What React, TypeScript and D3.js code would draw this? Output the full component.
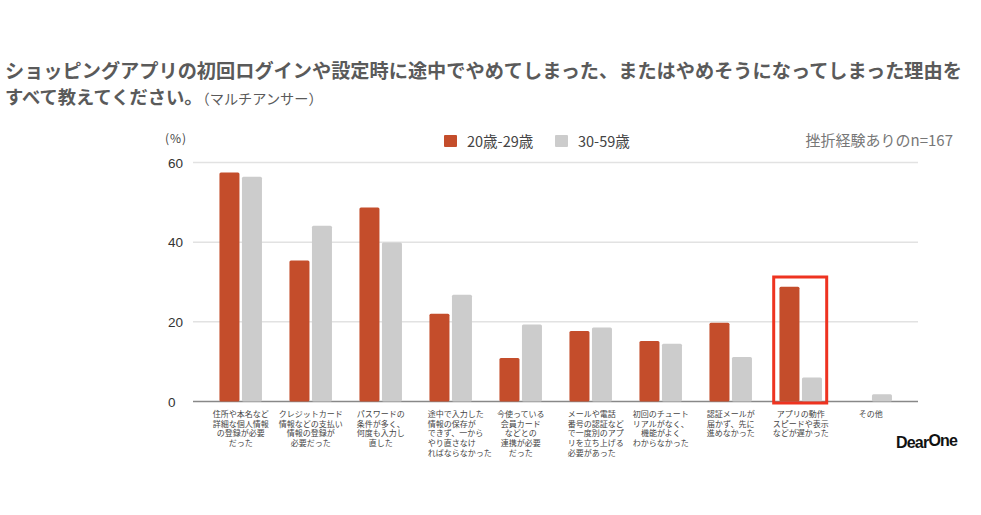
import React from 'react';
import * as d3 from 'd3';

const CATEGORIES = [
  ['住所や本名など', '詳細な個人情報', 'の登録が必要', 'だった'],
  ['クレジットカード', '情報などの支払い', '情報の登録が', '必要だった'],
  ['パスワードの', '条件が多く、', '何度も入力し', '直した'],
  ['途中で入力した', '情報の保存が', 'できず、一から', 'やり直さなけ', 'ればならなかった'],
  ['今使っている', '会員カード', 'などとの', '連携が必要', 'だった'],
  ['メールや電話', '番号の認証など', 'で一度別のアプ', 'リを立ち上げる', '必要があった'],
  ['初回のチュート', 'リアルがなく、', '機能がよく', 'わからなかった'],
  ['認証メールが', '届かず、先に', '進めなかった'],
  ['アプリの動作', 'スピードや表示', 'などが遅かった'],
  ['その他'],
];

const YOUNG = [57.5, 35.4, 48.7, 22.0, 10.9, 17.7, 15.2, 19.8, 28.8, 0];
const OLDER = [56.4, 44.1, 39.9, 26.8, 19.3, 18.6, 14.5, 11.2, 6.0, 1.8];

const SERIES = ['20歳-29歳', '30-59歳'];
const Y_TICKS = [0, 20, 40, 60];

const TITLE_1 = 'ショッピングアプリの初回ログインや設定時に途中でやめてしまった、またはやめそうになってしまった理由を';
const TITLE_2 = 'すべて教えてください。';
const TITLE_2B = '（マルチアンサー）';
const NOTE = '挫折経験ありのn=167';

const ORANGE = '#c44d2b';
const GRAY = '#cccccc';
const FONT = '"Noto Sans CJK JP", "Noto Sans", sans-serif';

// labels that are left aligned in the original
const LEFT_LABELS = [3, 5];
const HIGHLIGHT = 8;

export default function App() {
  const width = 981;
  const height = 515;

  const plotLeft = 205.7;
  const plotRight = 905.7;
  const top = 162.5;
  const bottom = 401.5;

  const idx = CATEGORIES.map((d, i) => String(i));
  const x = d3.scaleBand().domain(idx).range([plotLeft, plotRight]);
  const y = d3.scaleLinear().domain([0, 60]).range([bottom, top]);

  const barW = 20;
  const gap = 2.5;

  const bars = YOUNG.map((v, i) => {
    const c = x(String(i))! + x.bandwidth() / 2;
    const items: JSX.Element[] = [];
    if (v > 0) {
      items.push(
        <rect key={'y' + i} x={c - gap / 2 - barW} y={y(v)} width={barW} height={bottom - y(v)} fill={ORANGE} rx={1.5} />
      );
    }
    const o = OLDER[i];
    if (o > 0) {
      items.push(
        <rect key={'o' + i} x={c + gap / 2} y={y(o)} width={barW} height={bottom - y(o)} fill={GRAY} rx={1.5} />
      );
    }
    return items;
  });

  const labels = CATEGORIES.map((lines, i) => {
    const c = x(String(i))! + x.bandwidth() / 2;
    const left = LEFT_LABELS.includes(i);
    return (
      <text
        key={'l' + i}
        x={left ? c - 23 : c}
        y={417}
        textAnchor={left ? 'start' : 'middle'}
        fontSize={8}
        fill="#444"
        fontFamily={FONT}
      >
        {lines.map((t, j) => (
          <tspan key={j} x={left ? c - 23 : c} dy={j === 0 ? 0 : 9.7}>
            {t}
          </tspan>
        ))}
      </text>
    );
  });

  const hc = x(String(HIGHLIGHT))! + x.bandwidth() / 2;

  return (
    <div style={{ position: 'fixed', left: 0, top: 0, width, height, background: '#fff' }}>
      <svg width={width} height={height} fontFamily={FONT}>
        <text x={5} y={78} fontSize={19.2} fontWeight="bold" fill="#5a5a5a">
          {TITLE_1}
        </text>
        <text x={5} y={103.5} fill="#5a5a5a">
          <tspan fontSize={18.3} fontWeight="bold">{TITLE_2}</tspan>
          <tspan fontSize={14.2}>{TITLE_2B}</tspan>
        </text>

        <text x={165} y={143} fontSize={12} fill="#444" letterSpacing={1}>(%)</text>

        {/* legend */}
        <rect x={444} y={135} width={13} height={12} fill={ORANGE} rx={1} />
        <text x={467} y={146.5} fontSize={14.5} fill="#444">{SERIES[0]}</text>
        <rect x={555} y={135} width={13} height={12} fill={GRAY} rx={1} />
        <text x={578} y={146.5} fontSize={14.5} fill="#444">{SERIES[1]}</text>
        <text x={953} y={146} fontSize={15} fill="#777" textAnchor="end">{NOTE}</text>

        {Y_TICKS.map(t => (
          <g key={'t' + t}>
            <line
              x1={193}
              x2={918}
              y1={y(t)}
              y2={y(t)}
              stroke={t === 0 ? '#888' : '#e2e2e2'}
              strokeWidth={1.5}
            />
            <text x={168} y={y(t) + 5} fontSize={13.5} fill="#333" fontFamily="'Liberation Sans', sans-serif">
              {t}
            </text>
          </g>
        ))}

        {bars}

        <rect
          x={hc - 27}
          y={277}
          width={53}
          height={126}
          fill="none"
          stroke="#ee3320"
          strokeWidth={3}
        />

        {labels}

        <text x={896} y={448} fontSize={16} fontWeight="bold" fill="#111" fontFamily="'Liberation Sans', sans-serif" letterSpacing={-0.8}>
          Dear<tspan dy={-2}>One</tspan>
        </text>
      </svg>
    </div>
  );
}
